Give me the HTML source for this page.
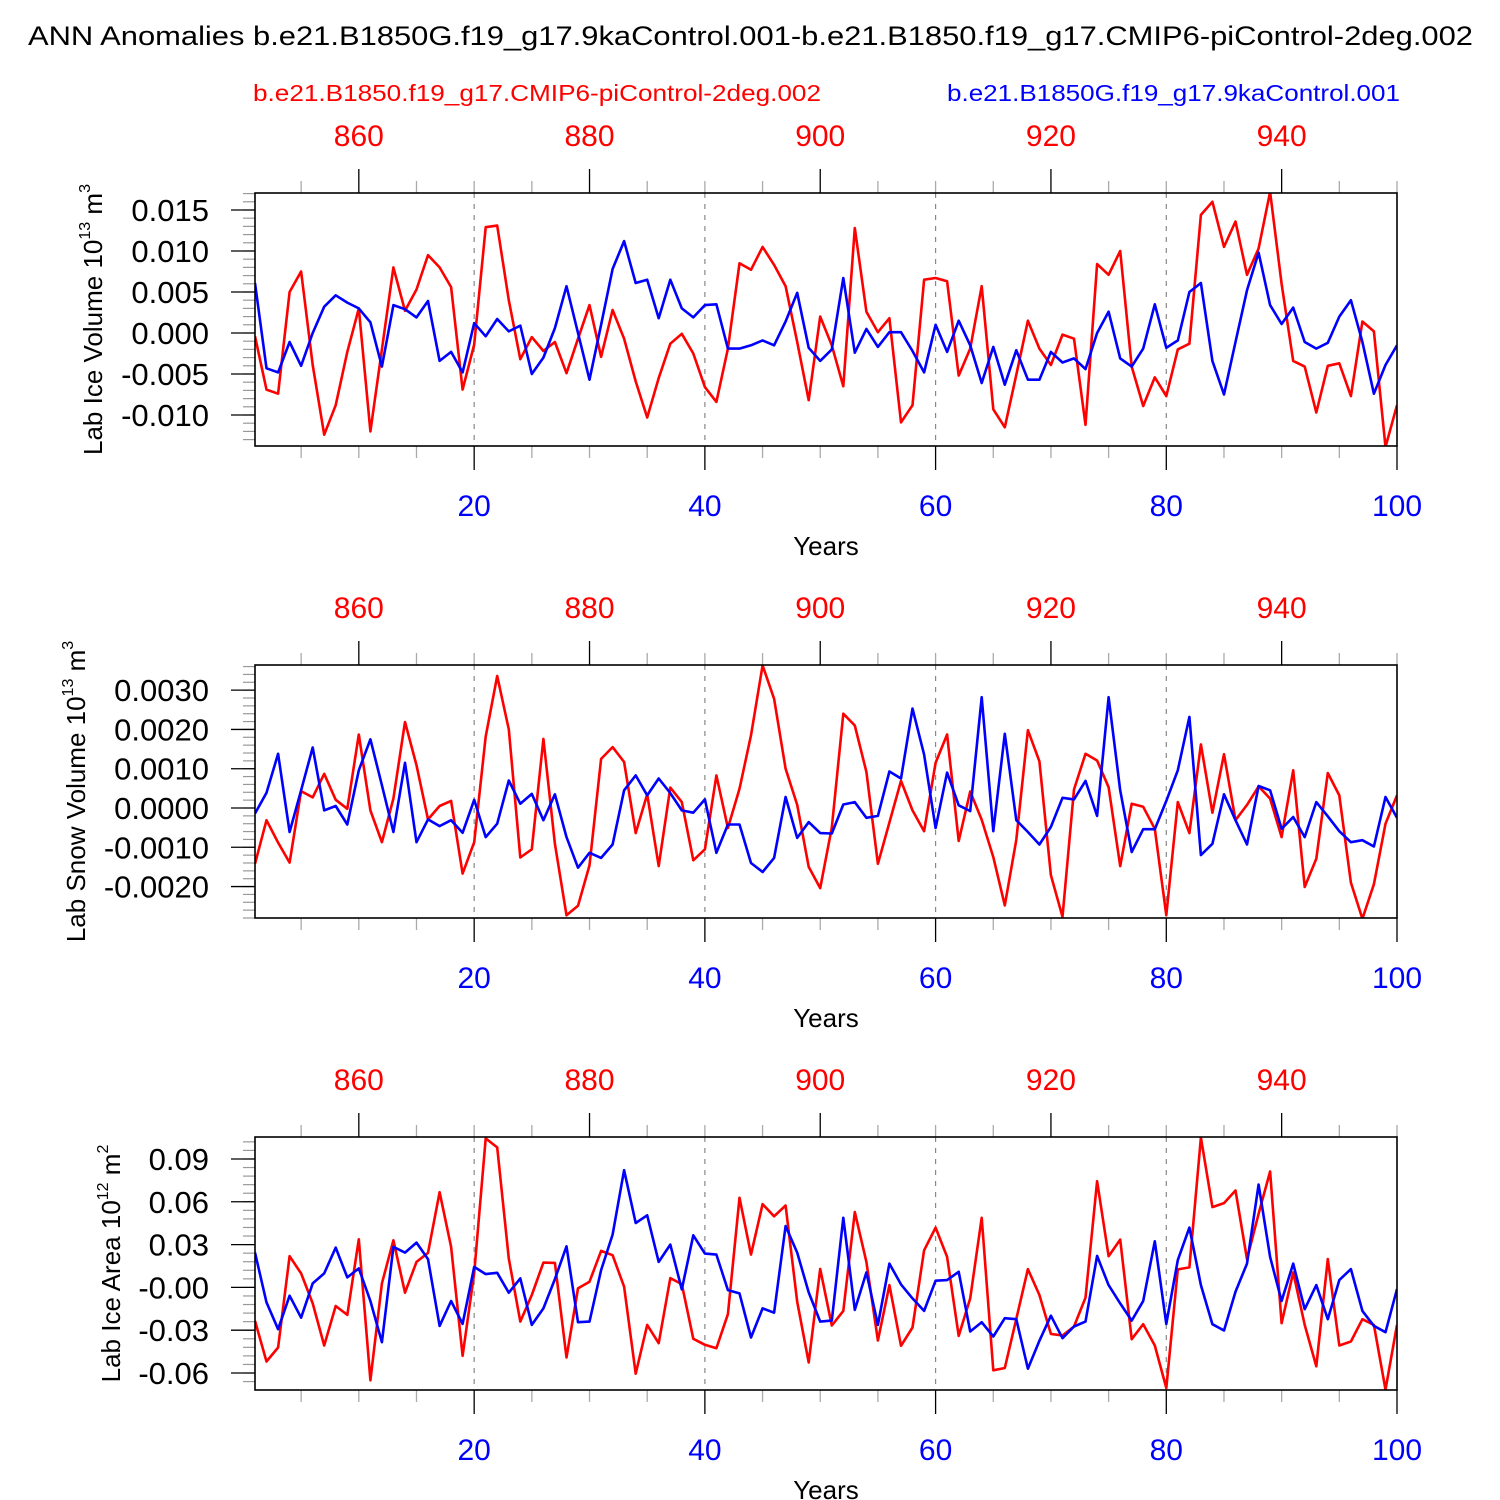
<!DOCTYPE html>
<html><head><meta charset="utf-8">
<style>
html,body{margin:0;padding:0;background:#fff;}
svg{display:block;font-family:"Liberation Sans",Arial,sans-serif;}
</style></head>
<body>
<svg id="chart" width="1500" height="1500" viewBox="0 0 1500 1500" xmlns="http://www.w3.org/2000/svg">
<text x="28" y="45" font-size="27" textLength="1445" lengthAdjust="spacingAndGlyphs" fill="#000">ANN Anomalies b.e21.B1850G.f19_g17.9kaControl.001-b.e21.B1850.f19_g17.CMIP6-piControl-2deg.002</text>
<text x="253" y="101" font-size="23" textLength="568" lengthAdjust="spacingAndGlyphs" fill="#ff0000">b.e21.B1850.f19_g17.CMIP6-piControl-2deg.002</text>
<text x="947" y="101" font-size="23" textLength="453" lengthAdjust="spacingAndGlyphs" fill="#0000ff">b.e21.B1850G.f19_g17.9kaControl.001</text>
</svg>
<script>
// Shared x data
const blueYears = Array.from({length:100},(_,i)=>i+1);
const redYearOffset = 850;
const bottomTicks = [20,40,60,80,100];
const topTicks = [860,880,900,920,940];

// Panel 1: Lab Ice Volume (units 1e-3)
const iceVolRed = [-0.4,-6.9,-7.4,5.0,7.5,-3.9,-12.4,-8.8,-2.3,3.0,-12.0,-2.0,8.0,2.7,5.3,9.5,8.0,5.6,-6.9,-1.4,12.9,13.1,4.0,-3.2,-0.5,-2.2,-1.1,-4.9,-0.7,3.4,-2.9,2.8,-0.7,-5.9,-10.3,-5.5,-1.3,-0.1,-2.5,-6.6,-8.4,-1.9,8.5,7.7,10.5,8.3,5.7,-1.1,-8.2,2.0,-1.5,-6.5,12.8,2.6,0.1,1.8,-10.9,-8.8,6.5,6.7,6.3,-5.2,-1.9,5.7,-9.3,-11.5,-5.1,1.5,-1.9,-3.9,-0.2,-0.7,-11.2,8.4,7.1,10.0,-4.1,-8.9,-5.4,-7.7,-2.0,-1.3,14.4,16.0,10.5,13.6,7.1,10.3,17.2,6.0,-3.4,-4.1,-9.7,-4.0,-3.7,-7.7,1.4,0.2,-13.9,-8.8];
const iceVolBlue = [6.1,-4.3,-4.8,-1.1,-4.0,0,3.2,4.6,3.7,3.0,1.3,-4.1,3.4,2.9,1.9,3.9,-3.4,-2.3,-4.8,1.2,-0.4,1.7,0.2,0.9,-5.0,-3.0,0.6,5.7,0,-5.7,1.0,7.8,11.2,6.1,6.5,1.8,6.5,3.0,1.9,3.4,3.5,-1.9,-1.9,-1.5,-0.9,-1.5,1.4,4.9,-1.8,-3.4,-2.0,6.7,-2.4,0.5,-1.7,0.1,0.1,-2.2,-4.8,1.0,-2.3,1.5,-1.5,-6.1,-1.7,-6.3,-2.1,-5.7,-5.7,-2.3,-3.6,-3.1,-4.4,0,2.6,-3.1,-4.1,-1.9,3.5,-1.8,-0.9,5.0,6.1,-3.4,-7.5,-1.1,5.2,9.8,3.4,1.1,3.1,-1.1,-1.9,-1.2,2.0,4.0,-1.1,-7.4,-3.9,-1.5];
const iceVolTickVals = [15,10,5,0,-5,-10];
const iceVolTickLabels = ["0.015","0.010","0.005","0.000","-0.005","-0.010"];

// Panel 2: Lab Snow Volume (units 1e-3)
const snowRed = [-1.42,-0.31,-0.88,-1.39,0.43,0.27,0.87,0.21,-0.02,1.87,-0.06,-0.87,0.24,2.19,1.09,-0.29,0.05,0.18,-1.67,-0.87,1.82,3.36,2.0,-1.26,-1.05,1.76,-0.91,-2.73,-2.49,-1.46,1.25,1.55,1.17,-0.64,0.35,-1.48,0.52,0.15,-1.33,-1.05,0.83,-0.51,0.49,1.85,3.63,2.78,1.0,0.08,-1.5,-2.04,-0.5,2.4,2.1,0.92,-1.42,-0.37,0.69,-0.06,-0.59,1.15,1.87,-0.84,0.42,-0.3,-1.25,-2.48,-0.81,1.98,1.19,-1.71,-2.77,0.47,1.38,1.21,0.53,-1.48,0.11,0.03,-0.53,-2.73,0.15,-0.64,1.62,-0.12,1.37,-0.31,0.08,0.55,0.24,-0.74,0.96,-2.01,-1.29,0.89,0.32,-1.9,-2.82,-1.94,-0.4,0.32];
const snowBlue = [-0.14,0.39,1.38,-0.61,0.45,1.54,-0.06,0.05,-0.42,0.96,1.75,0.58,-0.61,1.15,-0.87,-0.29,-0.46,-0.31,-0.63,0.21,-0.74,-0.4,0.7,0.11,0.36,-0.31,0.35,-0.74,-1.52,-1.14,-1.27,-0.93,0.45,0.83,0.32,0.75,0.38,-0.06,-0.12,0.22,-1.14,-0.42,-0.42,-1.4,-1.63,-1.27,0.28,-0.76,-0.36,-0.64,-0.65,0.09,0.15,-0.25,-0.2,0.93,0.75,2.53,1.36,-0.51,0.9,0.07,-0.08,2.82,-0.59,1.89,-0.31,-0.61,-0.93,-0.48,0.26,0.22,0.69,-0.2,2.82,0.45,-1.12,-0.54,-0.54,0.18,0.96,2.32,-1.2,-0.91,0.35,-0.31,-0.93,0.56,0.45,-0.53,-0.23,-0.74,0.15,-0.21,-0.59,-0.87,-0.82,-0.98,0.28,-0.25];
const snowTickVals = [3,2,1,0,-1,-2];
const snowTickLabels = ["0.0030","0.0020","0.0010","0.0000","-0.0010","-0.0020"];

// Panel 3: Lab Ice Area (units 1e-2)
const areaRed = [-2.35,-5.19,-4.21,2.19,0.98,-1.12,-4.07,-1.3,-1.93,3.37,-6.51,0.28,3.3,-0.37,1.79,2.42,6.67,2.84,-4.79,1.0,10.44,9.81,2.02,-2.4,-0.53,1.74,1.72,-4.91,-0.07,0.4,2.56,2.26,0.05,-6.05,-2.63,-3.91,0.65,0.23,-3.6,-4.02,-4.26,-1.88,6.28,2.3,5.84,4.98,5.74,-1.0,-5.26,1.3,-2.67,-1.65,5.28,1.79,-3.72,0.16,-4.09,-2.81,2.6,4.19,2.14,-3.4,-0.77,4.88,-5.81,-5.65,-2.21,1.28,-0.53,-3.26,-3.37,-2.74,-0.72,7.44,2.19,3.35,-3.63,-2.58,-4.07,-7.05,1.26,1.4,10.5,5.63,5.91,6.79,1.98,5.16,8.12,-2.51,1.05,-2.63,-5.53,1.98,-4.07,-3.79,-2.23,-2.63,-7.16,-2.63];
const areaBlue = [2.44,-1.05,-2.93,-0.58,-2.12,0.28,0.98,2.79,0.7,1.33,-0.95,-3.84,2.84,2.44,3.14,1.98,-2.7,-0.95,-2.56,1.44,0.93,1.02,-0.37,0.63,-2.63,-1.47,0.58,2.88,-2.44,-2.4,1.21,3.7,8.21,4.51,5.05,1.79,3.0,-0.14,3.65,2.37,2.3,-0.19,-0.42,-3.51,-1.47,-1.77,4.3,2.44,-0.35,-2.4,-2.33,4.88,-1.58,1.05,-2.63,1.67,0.21,-0.77,-1.65,0.47,0.51,1.09,-3.09,-2.44,-3.44,-2.16,-2.23,-5.7,-3.74,-1.98,-3.56,-2.74,-2.4,2.21,0.16,-1.12,-2.33,-0.95,3.23,-2.56,1.91,4.19,0.16,-2.58,-3.02,-0.3,1.67,7.21,2.14,-0.95,1.67,-1.53,0.16,-2.23,0.51,1.28,-1.65,-2.7,-3.14,-0.12];
const areaTickVals = [9,6,3,0,-3,-6];
const areaTickLabels = ["0.09","0.06","0.03","-0.00","-0.03","-0.06"];

const NS = "http://www.w3.org/2000/svg";
const svg = document.getElementById('chart');
function mk(tag, attrs, parent){
  const e = document.createElementNS(NS, tag);
  for (const k in attrs) e.setAttribute(k, attrs[k]);
  (parent||svg).appendChild(e);
  return e;
}
const X0 = 255, X1 = 1397;
function xScale(yr){ return X0 + (yr-1)*(X1-X0)/99; }

function panel(cfg){
  const g = mk('g', {});
  
  
  const top = cfg.top, bot = cfg.top + 253;
  const yScale = v => bot - (v - cfg.ymin) * (bot - top) / (cfg.ymax - cfg.ymin);
  for (const t of [20,40,60,80]) {
    const l = mk('line', {x1:xScale(t), x2:xScale(t), y1:top, y2:bot, stroke:'#888', 'stroke-width':1.2, 'stroke-dasharray':'5,6'}, g);
    
    
  }
  for (let v = cfg.minorStart; v >= cfg.ymin - 1e-9; v -= cfg.minorStep) {
    const y = yScale(v);
    if (y < top - 0.5) continue;
    const t = mk('line', {x1:X0-12, x2:X0, y1:y, y2:y, stroke:'#999', 'stroke-width':1.2}, g);
    
    
  }
  cfg.tickVals.forEach((v,i)=>{
    const y = yScale(v);
    const t = mk('line', {x1:X0-24, x2:X0, y1:y, y2:y, stroke:'#000', 'stroke-width':1.3}, g);
    
    
    const tx = mk('text', {x:X0-46, y:y+11, 'font-size':31, 'text-anchor':'end', fill:'#000'}, g);
    tx.textContent = cfg.tickLabels[i];
    
    
  });
  for (let yr = 5; yr <= 100; yr += 5) {
    const x = xScale(yr);
    const major = yr % 20 === 0;
    const len = major ? 24 : 12;
    const col = major ? '#000' : '#aaa';
    const b = mk('line', {x1:x, x2:x, y1:bot, y2:bot+len, stroke:col, 'stroke-width':1.3}, g);
    
    
    const redMajor = (yr + redYearOffset) % 20 === 0;
    const tlen = redMajor ? 24 : 12;
    const tc = mk('line', {x1:x, x2:x, y1:top-tlen, y2:top, stroke:redMajor?'#000':'#aaa', 'stroke-width':1.3}, g);
    
    
  }
  bottomTicks.forEach(t=>{
    const tx = mk('text', {x:xScale(t), y:bot+70, 'font-size':30, 'text-anchor':'middle', fill:'#0000ff'}, g);
    tx.textContent = String(t);
    
    
  });
  topTicks.forEach(t=>{
    const tx = mk('text', {x:xScale(t - redYearOffset), y:top-47, 'font-size':30, 'text-anchor':'middle', fill:'#ff0000'}, g);
    tx.textContent = String(t);
    
    
  });
  const xt = mk('text', {x:826, y:bot+109, 'font-size':26, 'text-anchor':'middle', fill:'#000'}, g);
  xt.textContent = 'Years';
  
  
  const cy = (top+bot)/2;
  const yt = mk('text', {x:0, y:0, 'font-size':26, 'text-anchor':'middle', fill:'#000', transform:`translate(${cfg.titleX},${cy}) rotate(-90)`}, g);
  
  
  const t1 = document.createElementNS(NS,'tspan'); t1.textContent = cfg.title + ' 10'; yt.appendChild(t1);
  const t2 = document.createElementNS(NS,'tspan'); t2.textContent = cfg.exp1; t2.setAttribute('font-size','16'); t2.setAttribute('dy','-12'); yt.appendChild(t2);
  const t3 = document.createElementNS(NS,'tspan'); t3.textContent = ' m'; t3.setAttribute('dy','12'); yt.appendChild(t3);
  const t4 = document.createElementNS(NS,'tspan'); t4.textContent = cfg.exp2; t4.setAttribute('font-size','16'); t4.setAttribute('dy','-12'); yt.appendChild(t4);
  const clipId = 'clip-' + cfg.name;
  const cp = mk('clipPath', {id:clipId}, g);
  mk('rect', {x:X0, y:top, width:X1-X0, height:bot-top}, cp);
  [[cfg.red,'#ff0000','red-series-line'],[cfg.blue,'#0000ff','blue-series-line']].forEach(([arr,col,nm])=>{
    const pts = arr.map((v,i)=> xScale(blueYears[i]).toFixed(1)+','+yScale(v).toFixed(1)).join(' ');
    const pl = mk('polyline', {points:pts, fill:'none', stroke:col, 'stroke-width':2.6, 'stroke-linejoin':'round', 'clip-path':`url(#${clipId})`}, g);
    
    
  });
  const box = mk('rect', {x:X0, y:top, width:X1-X0, height:bot-top, fill:'none', stroke:'#000', 'stroke-width':1.6}, g);
  
  
}

panel({name:'ice-volume-panel', top:193, ymin:-13.78, ymax:17.07, tickVals:iceVolTickVals, tickLabels:iceVolTickLabels, minorStart:17, minorStep:1, red:iceVolRed, blue:iceVolBlue, title:'Lab Ice Volume', exp1:'13', exp2:'3', titleX:102});
panel({name:'snow-volume-panel', top:665, ymin:-2.8, ymax:3.64, tickVals:snowTickVals, tickLabels:snowTickLabels, minorStart:3.6, minorStep:0.2, red:snowRed, blue:snowBlue, title:'Lab Snow Volume', exp1:'13', exp2:'3', titleX:85});
panel({name:'ice-area-panel', top:1137, ymin:-7.19, ymax:10.54, tickVals:areaTickVals, tickLabels:areaTickLabels, minorStart:10.2, minorStep:0.6, red:areaRed, blue:areaBlue, title:'Lab Ice Area', exp1:'12', exp2:'2', titleX:120});
</script>
</body></html>
